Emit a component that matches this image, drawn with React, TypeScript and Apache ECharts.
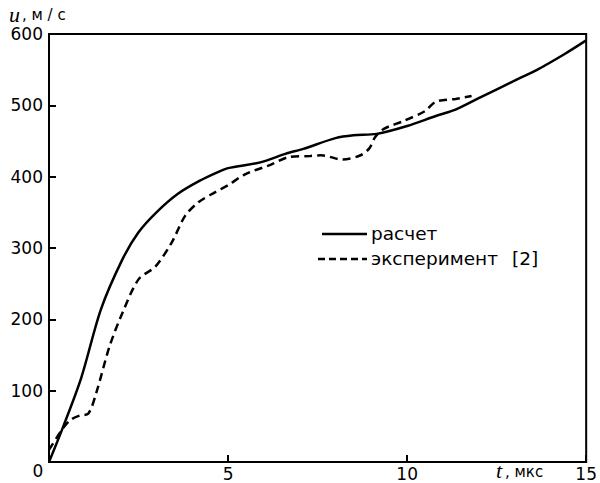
import React, { useEffect, useRef } from "react";
import * as echarts from "echarts";

const calcT = [0, 0.4, 0.9, 1.45, 2.05, 2.5, 3.0, 3.6, 4.2, 4.7, 5.0, 5.9, 6.6, 7.1, 8.0, 8.5, 9.15, 10.0, 10.8, 11.35, 12.0, 13.1, 13.6, 14.4, 15];
const calcU = [0, 50, 118, 214, 284, 322, 350, 376, 394, 406, 412, 420, 432, 439, 454, 458, 460, 471, 485, 494, 510, 537, 549, 572, 591];

const expT = [0, 0.4, 0.6, 0.85, 1.1, 1.32, 1.69, 2.05, 2.5, 2.97, 3.43, 3.8, 4.17, 4.63, 5.0, 5.46, 6.2, 6.66, 7.3, 7.6, 8.2, 8.7, 8.95, 9.1, 9.35, 9.9, 10.5, 10.8, 11.35, 11.8];
const expU = [17, 48, 59, 65, 68, 97, 162, 209, 256, 274, 308, 345, 364, 378, 388, 403, 417, 427, 429, 430, 424, 430, 440, 455, 467, 478, 492, 505, 509, 513];

const xTicks = [5, 10, 15];
const yTicks = [100, 200, 300, 400, 500, 600];
const seriesNames = ["расчет", "эксперимент"];
const expRef = "[2]";

const FONT = "DejaVu Sans";

export default function App() {
  const ref = useRef<HTMLDivElement>(null);
  useEffect(() => {
    if (!ref.current) return;
    const chart = echarts.init(ref.current, undefined, { renderer: "svg" });
    const zip = (a: number[], b: number[]) => a.map((v, i) => [v, b[i]]);
    chart.setOption({
      animation: false,
      backgroundColor: "#fff",
      grid: {
        left: 49,
        right: 10,
        top: 34,
        bottom: 21,
        show: true,
        borderColor: "#000",
        borderWidth: 2,
      },
      xAxis: {
        type: "value",
        min: 0,
        max: 15,
        interval: 5,
        axisLine: { show: true, lineStyle: { color: "#000", width: 2 } },
        axisTick: { show: true, inside: true, length: 7, lineStyle: { color: "#000", width: 2 } },
        splitLine: { show: false },
        axisLabel: {
          margin: 3,
          color: "#000",
          fontFamily: FONT,
          fontSize: 17,
          showMinLabel: false,
          formatter: (v: number) => (xTicks.includes(v) ? String(v) : ""),
        },
      },
      yAxis: {
        type: "value",
        min: 0,
        max: 600,
        interval: 100,
        axisLine: { show: true, lineStyle: { color: "#000", width: 2 } },
        axisTick: { show: true, inside: true, length: 7, lineStyle: { color: "#000", width: 2 } },
        splitLine: { show: false },
        axisLabel: {
          margin: 6,
          color: "#000",
          fontFamily: FONT,
          fontSize: 17,
          showMinLabel: false,
          formatter: (v: number) => (yTicks.includes(v) ? String(v) : ""),
        },
      },
      series: [
        {
          name: seriesNames[0],
          type: "line",
          data: zip(calcT, calcU),
          showSymbol: false,
          smooth: 0.3,
          lineStyle: { color: "#000", width: 2.5 },
        },
        {
          name: seriesNames[1],
          type: "line",
          data: zip(expT, expU),
          showSymbol: false,
          smooth: 0.3,
          lineStyle: { color: "#000", width: 2.5, type: [8, 5] },
        },
      ],
      graphic: [
        { type: "text", x: 9, y: 14, style: { text: "u", font: "italic 22px 'Liberation Serif'", fill: "#000", verticalAlign: "middle" } },
        { type: "text", x: 22, y: 15, style: { text: ", м / с", font: `15px '${FONT}'`, fill: "#000", verticalAlign: "middle" } },
        { type: "text", x: 38, y: 471, style: { text: "0", font: `17px '${FONT}'`, fill: "#000", align: "center", verticalAlign: "middle" } },
        { type: "text", x: 496, y: 470, style: { text: "t", font: "italic 22px 'Liberation Serif'", fill: "#000", verticalAlign: "middle" } },
        { type: "text", x: 505, y: 472, style: { text: ", мкс", font: `15px '${FONT}'`, fill: "#000", verticalAlign: "middle" } },
        { type: "line", shape: { x1: 322, y1: 234, x2: 367, y2: 234 }, style: { stroke: "#000", lineWidth: 2.5 } },
        { type: "text", x: 371, y: 233, style: { text: seriesNames[0], font: `18.5px '${FONT}'`, fill: "#000", verticalAlign: "middle" } },
        { type: "line", shape: { x1: 318, y1: 259, x2: 367, y2: 259 }, style: { stroke: "#000", lineWidth: 2.5, lineDash: [7, 4] } },
        { type: "text", x: 371, y: 258, style: { text: seriesNames[1], font: `18.5px '${FONT}'`, fill: "#000", verticalAlign: "middle" } },
        { type: "text", x: 512, y: 258, style: { text: expRef, font: `18.5px '${FONT}'`, fill: "#000", verticalAlign: "middle" } },
      ],
    });
    return () => chart.dispose();
  }, []);
  return <div ref={ref} style={{ position: "fixed", left: 0, top: 0, width: 600, height: 483 }} />;
}
